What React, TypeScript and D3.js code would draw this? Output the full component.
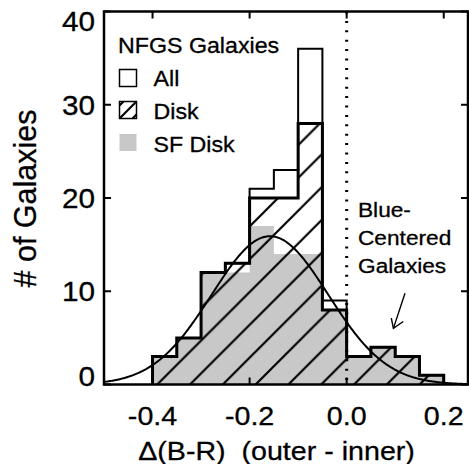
import React from "react";
import * as d3 from "d3";

const binStarts = [-0.4, -0.35, -0.3, -0.25, -0.2, -0.15, -0.1, -0.05, 0, 0.05, 0.1, 0.15];
const binWidth = 0.05;
const allCounts = [3, 5, 12, 13, 21, 23, 36, 9, 3, 4, 3, 1];
const diskCounts = [3, 5, 12, 13, 20, 20, 28, 8, 3, 4, 3, 1];
const sfDiskCounts = [3, 5, 12, 12, 17, 14, 14, 8, 3, 4, 3, 1];
// Gaussian fit: [amplitude, mean, sigma]
const gaussFit = [15.9, -0.158, 0.12];
const xTicks = [-0.4, -0.2, 0.0, 0.2];
const yTicks = [0, 10, 20, 30, 40];
const legendLabels = ["All", "Disk", "SF Disk"];
const noteLines = ["Blue-", "Centered", "Galaxies"];

const W = 469;
const H = 464;
const FONT = "'Liberation Sans', Arial, Helvetica, sans-serif";
const SX = 1.08;

export default function App() {
  const x = d3.scaleLinear().domain([-0.5, 0.25]).range([104, 468]);
  const y = d3.scaleLinear().domain([0, 40]).range([384.5, 11.5]);

  const stepPath = (counts: number[]) => {
    const p = d3.path();
    p.moveTo(x(binStarts[0]), y(0));
    counts.forEach((c, i) => {
      p.lineTo(x(binStarts[i]), y(c));
      p.lineTo(x(binStarts[i] + binWidth), y(c));
    });
    p.lineTo(x(binStarts[binStarts.length - 1] + binWidth), y(0));
    return p.toString();
  };

  const [amp, mu, sig] = gaussFit;
  const curveXs = d3.range(-0.5, 0.2501, 0.0025);
  const curve = d3
    .line<number>()
    .x((v) => x(v))
    .y((v) => y(amp * Math.exp(-((v - mu) ** 2) / (2 * sig * sig))))(curveXs);

  const hatchW = 32.8;
  const x0 = x(0);
  const plotL = x(-0.5);
  const plotR = x(0.25);
  const plotT = y(40);
  const plotB = y(0);
  const tickLen = 7;

  const hText = (
    key: string | number,
    tx: number,
    ty: number,
    str: string,
    size: number,
    anchor: "start" | "middle" | "end" = "start"
  ) => (
    <text
      key={key}
      transform={`translate(${tx},${ty}) scale(${SX},1)`}
      textAnchor={anchor}
      fontSize={size}
      fontFamily={FONT}
      fill="#000"
      stroke="#000"
      strokeWidth={0.3}
      style={{ whiteSpace: "pre" }}
    >
      {str}
    </text>
  );

  const legY = [69.5, 101.5, 134];
  const legX = 119.5;
  const box = 17;

  return (
    <svg width={W} height={H} style={{ position: "absolute", left: 0, top: 0, background: "#fff" }}>
      <defs>
        <pattern
          id="hatch"
          patternUnits="userSpaceOnUse"
          x={156.7}
          y={385}
          width={hatchW}
          height={hatchW}
        >
          <path
            d={`M0,${hatchW} L${hatchW},0 M${-hatchW / 2},${hatchW / 2} L${hatchW / 2},${-hatchW / 2} M${hatchW / 2},${hatchW * 1.5} L${hatchW * 1.5},${hatchW / 2}`}
            stroke="#000"
            strokeWidth={2.2}
          />
        </pattern>
        <clipPath id="legclip">
          <rect x={legX} y={legY[1]} width={box} height={box} />
        </clipPath>
        <clipPath id="plotclip">
          <rect x={plotL} y={plotT} width={plotR - plotL} height={plotB - plotT} />
        </clipPath>
      </defs>

      {/* SF disk gray fill */}
      <path d={stepPath(sfDiskCounts)} fill="#c8c8c8" stroke="none" />
      {/* Disk hatch */}
      <path d={stepPath(diskCounts)} fill="url(#hatch)" stroke="none" />
      {/* Gaussian fit */}
      <path d={curve || ""} fill="none" stroke="#000" strokeWidth={2} clipPath="url(#plotclip)" />
      {/* All outline */}
      <path d={stepPath(allCounts)} fill="none" stroke="#000" strokeWidth={2} />
      {/* Disk outline */}
      <path d={stepPath(diskCounts)} fill="none" stroke="#000" strokeWidth={3} />

      {/* dotted zero line */}
      <line
        x1={x0}
        x2={x0}
        y1={plotT}
        y2={plotB}
        stroke="#000"
        strokeWidth={3}
        strokeDasharray="2 7.4"
      />

      {/* frame */}
      <rect
        x={plotL}
        y={plotT}
        width={plotR - plotL}
        height={plotB - plotT}
        fill="none"
        stroke="#000"
        strokeWidth={2.5}
      />
      {xTicks.map((t) => (
        <g key={"xt" + t}>
          <line x1={x(t)} x2={x(t)} y1={plotB} y2={plotB - tickLen} stroke="#000" strokeWidth={2} />
          <line x1={x(t)} x2={x(t)} y1={plotT} y2={plotT + tickLen} stroke="#000" strokeWidth={2} />
        </g>
      ))}
      {yTicks.map((t) => (
        <g key={"yt" + t}>
          <line x1={plotL} x2={plotL + tickLen} y1={y(t)} y2={y(t)} stroke="#000" strokeWidth={2} />
          <line x1={plotR} x2={plotR - tickLen} y1={y(t)} y2={y(t)} stroke="#000" strokeWidth={2} />
        </g>
      ))}

      {/* tick labels */}
      {xTicks.map((t) => hText("xl" + t, x(t), 425, t.toFixed(1), 26.5, "middle"))}
      {yTicks.map((t) =>
        hText("yl" + t, 95, Math.min(Math.max(y(t) + 10, 30.5), 385.5), String(t), 27.5, "end")
      )}

      {/* axis titles */}
      {hText("xlab", 276.5, 459.5, "\u0394(B-R)  (outer - inner)", 26.5, "middle")}
      <text
        transform="translate(35.5,198.5) rotate(-90)"
        textAnchor="middle"
        fontSize={30.5}
        fontFamily={FONT}
        fill="#000"
        stroke="#000"
        strokeWidth={0.3}
      >
        # of Galaxies
      </text>

      {/* legend */}
      {hText("legt", 118, 53, "NFGS Galaxies", 21.5)}
      <rect x={legX} y={legY[0]} width={box} height={box} fill="#fff" stroke="#000" strokeWidth={1.5} />
      <g clipPath="url(#legclip)">
        <rect x={legX} y={legY[1]} width={box} height={box} fill="#fff" />
        {[-13, 0, 13].map((o) => (
          <line
            key={o}
            x1={legX + o}
            y1={legY[1] + box}
            x2={legX + box + o}
            y2={legY[1]}
            stroke="#000"
            strokeWidth={2.2}
          />
        ))}
      </g>
      <rect x={legX} y={legY[1]} width={box} height={box} fill="none" stroke="#000" strokeWidth={1.5} />
      <rect x={legX} y={legY[2]} width={box} height={box} fill="#c8c8c8" stroke="none" />
      {legendLabels.map((l, i) => hText("leg" + i, 153.5, [86, 118.5, 151.5][i], l, 21.5))}

      {/* annotation */}
      {noteLines.map((l, i) => hText("note" + i, 358, [216.7, 244.8, 272.7][i], l, 21))}
      <g stroke="#000" strokeWidth={1.4} fill="none">
        <line x1={405} y1={293.3} x2={393.4} y2={328.4} />
        <polyline points="391.3,318.2 393.4,328.4 403.3,321.5" />
      </g>
    </svg>
  );
}
